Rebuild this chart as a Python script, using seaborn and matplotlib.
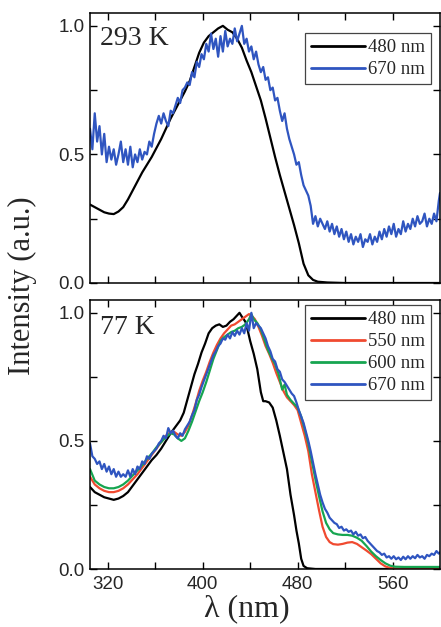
import numpy as np
import pandas as pd
import matplotlib
matplotlib.use("Agg")
import matplotlib.pyplot as plt
from matplotlib.ticker import FixedLocator
import seaborn as sns

# ---------------- data ----------------
# 293 K, detection at 480 nm
wl_293_480 = [305, 309, 313, 317, 321, 325, 329, 333, 337, 341, 345, 349, 353, 357, 361,
              365, 369, 373, 377, 381, 385, 389, 393, 397, 401, 405, 409, 413, 417, 421,
              425, 429, 433, 437, 441, 445, 449, 453, 457, 461, 465, 469, 473, 477, 481,
              485, 489, 493, 497, 505, 520, 560, 600]
int_293_480 = [0.305, 0.295, 0.285, 0.275, 0.27, 0.268, 0.278, 0.295, 0.325, 0.36, 0.395, 0.43,
               0.46, 0.49, 0.525, 0.56, 0.60, 0.64, 0.675, 0.71, 0.745, 0.785, 0.84, 0.895,
               0.935, 0.96, 0.975, 0.99, 1.0, 0.985, 0.975, 0.95, 0.915, 0.865, 0.82, 0.765,
               0.71, 0.64, 0.565, 0.49, 0.42, 0.355, 0.29, 0.225, 0.155, 0.075, 0.03, 0.012,
               0.005, 0.002, 0.0, 0.0, 0.0]

# 293 K, detection at 670 nm (2 nm steps from 305 nm, last point at 600 nm)
wl_293_670 = list(range(305, 600, 2)) + [600]
int_293_670 = [0.60, 0.52, 0.66, 0.55, 0.61, 0.50, 0.58, 0.47, 0.53, 0.48,
               0.52, 0.46, 0.50, 0.55, 0.47, 0.52, 0.46, 0.53, 0.45, 0.50,
               0.47, 0.52, 0.48, 0.51, 0.50, 0.55, 0.53, 0.58, 0.62, 0.65,
               0.62, 0.66, 0.63, 0.61, 0.67, 0.66, 0.69, 0.72, 0.70, 0.75,
               0.76, 0.78, 0.77, 0.82, 0.80, 0.86, 0.84, 0.89, 0.87, 0.93,
               0.90, 0.97, 0.91, 0.95, 0.88, 0.96, 0.90, 0.98, 0.92, 0.95,
               0.93, 0.99, 0.94, 0.97, 1.00, 0.93, 0.95, 0.90, 0.92, 0.87,
               0.90, 0.85, 0.82, 0.84, 0.79, 0.80, 0.75, 0.76, 0.71, 0.72,
               0.67, 0.63, 0.66, 0.60, 0.56, 0.53, 0.50, 0.46, 0.47, 0.42,
               0.38, 0.36, 0.34, 0.30, 0.23, 0.26, 0.22, 0.25, 0.23, 0.21,
               0.24, 0.20, 0.23, 0.19, 0.22, 0.18, 0.21, 0.17, 0.20, 0.16,
               0.19, 0.15, 0.18, 0.16, 0.19, 0.14, 0.17, 0.16, 0.19, 0.15,
               0.18, 0.16, 0.20, 0.17, 0.21, 0.18, 0.22, 0.19, 0.23, 0.18,
               0.21, 0.19, 0.24, 0.20, 0.23, 0.21, 0.25, 0.22, 0.26, 0.23,
               0.24, 0.27, 0.22, 0.25, 0.23, 0.27, 0.24, 0.32, 0.35]

# 77 K, detection at 480 nm
wl_77_480 = [305, 309, 313, 317, 321, 325, 329, 333, 337, 341, 345, 349, 353, 357, 361,
             365, 369, 373, 377, 381, 384, 387, 390, 393, 396, 399, 402, 405, 408, 411,
             414, 417, 420, 423, 426, 429, 431, 433, 436, 438, 440, 443, 446, 449, 451,
             453, 456, 459, 462, 465, 468, 471, 474, 477, 479, 481, 483, 485, 488, 495, 600]
int_77_480 = [0.32, 0.30, 0.29, 0.28, 0.275, 0.27, 0.275, 0.285, 0.30, 0.325, 0.35, 0.375,
              0.40, 0.425, 0.445, 0.47, 0.50, 0.53, 0.555, 0.58, 0.61, 0.66, 0.71, 0.76,
              0.80, 0.845, 0.88, 0.92, 0.94, 0.95, 0.955, 0.945, 0.95, 0.965, 0.975, 0.99,
              1.0, 0.985, 0.965, 0.93, 0.89, 0.84, 0.78, 0.69, 0.655, 0.655, 0.65, 0.63,
              0.58, 0.52, 0.455, 0.39, 0.29, 0.21, 0.15, 0.10, 0.04, 0.012, 0.003, 0.0, 0.0]

# 77 K, detection at 550 nm
wl_77_550 = [305, 309, 313, 317, 321, 325, 329, 333, 337, 341, 345, 349, 353, 357, 361,
             365, 369, 373, 376, 379, 382, 385, 388, 391, 394, 397, 400, 403, 406, 409,
             412, 415, 418, 421, 424, 427, 430, 433, 436, 439, 441, 444, 447, 450, 453,
             456, 459, 462, 465, 468, 471, 474, 477, 480, 483, 486, 489, 492, 495, 498,
             501, 504, 507, 510, 514, 518, 522, 526, 530, 534, 538, 542, 546, 550, 554,
             558, 565, 600]
int_77_550 = [0.36, 0.33, 0.315, 0.305, 0.30, 0.30, 0.305, 0.315, 0.33, 0.35, 0.37, 0.395,
              0.42, 0.445, 0.47, 0.495, 0.52, 0.535, 0.535, 0.525, 0.52, 0.535, 0.56, 0.60,
              0.645, 0.695, 0.735, 0.77, 0.81, 0.845, 0.875, 0.90, 0.92, 0.935, 0.95, 0.955,
              0.965, 0.975, 0.985, 0.995, 0.99, 0.975, 0.945, 0.91, 0.87, 0.84, 0.805, 0.765,
              0.73, 0.695, 0.67, 0.655, 0.64, 0.62, 0.57, 0.52, 0.46, 0.37, 0.30, 0.23,
              0.165, 0.125, 0.105, 0.097, 0.095, 0.098, 0.103, 0.105, 0.098, 0.085, 0.072,
              0.058, 0.04, 0.022, 0.01, 0.004, 0.0, 0.0]

# 77 K, detection at 600 nm
wl_77_600 = [305, 309, 313, 317, 321, 325, 329, 333, 337, 341, 345, 349, 353, 357, 361,
             365, 369, 373, 376, 379, 382, 385, 388, 391, 394, 397, 400, 403, 406, 409,
             412, 415, 418, 421, 424, 427, 430, 433, 436, 439, 441, 443, 446, 449, 452,
             455, 458, 461, 464, 467, 469, 471, 474, 477, 480, 483, 486, 489, 492, 495,
             498, 501, 504, 507, 510, 514, 518, 522, 526, 530, 534, 538, 542, 546, 550,
             554, 558, 562, 570, 580, 590, 600]
int_77_600 = [0.39, 0.345, 0.33, 0.32, 0.315, 0.315, 0.32, 0.33, 0.345, 0.365, 0.385, 0.405,
              0.43, 0.45, 0.475, 0.495, 0.515, 0.53, 0.525, 0.51, 0.50, 0.51, 0.54, 0.575,
              0.615, 0.655, 0.69, 0.73, 0.775, 0.82, 0.855, 0.89, 0.905, 0.915, 0.925, 0.93,
              0.94, 0.945, 0.955, 0.975, 0.995, 0.975, 0.96, 0.935, 0.895, 0.855, 0.825,
              0.80, 0.76, 0.70, 0.72, 0.68, 0.66, 0.645, 0.63, 0.595, 0.545, 0.49, 0.42,
              0.35, 0.285, 0.225, 0.18, 0.155, 0.14, 0.135, 0.133, 0.133, 0.13, 0.122, 0.11,
              0.09, 0.068, 0.05, 0.035, 0.022, 0.013, 0.009, 0.008, 0.008, 0.008, 0.008]

# 77 K, detection at 670 nm (2 nm steps from 305 nm, last point at 600 nm)
wl_77_670 = list(range(305, 600, 2)) + [600]
int_77_670 = [0.49, 0.44, 0.43, 0.41, 0.42, 0.39, 0.41, 0.38, 0.40, 0.37,
              0.39, 0.36, 0.38, 0.36, 0.37, 0.36, 0.385, 0.36, 0.39, 0.37,
              0.40, 0.39, 0.42, 0.41, 0.44, 0.43, 0.45, 0.46, 0.47, 0.49,
              0.50, 0.52, 0.51, 0.55, 0.53, 0.54, 0.52, 0.51, 0.53, 0.52,
              0.545, 0.56, 0.575, 0.60, 0.62, 0.66, 0.68, 0.71, 0.735, 0.76,
              0.785, 0.81, 0.835, 0.85, 0.87, 0.88, 0.90, 0.895, 0.915, 0.90,
              0.925, 0.91, 0.93, 0.915, 0.94, 0.92, 0.96, 0.93, 1.00, 0.94,
              0.96, 0.95, 0.94, 0.92, 0.90, 0.87, 0.85, 0.82, 0.81, 0.78,
              0.77, 0.74, 0.73, 0.715, 0.70, 0.685, 0.675, 0.65, 0.62, 0.595,
              0.57, 0.535, 0.50, 0.46, 0.415, 0.37, 0.33, 0.29, 0.26, 0.235,
              0.22, 0.20, 0.19, 0.18, 0.175, 0.16, 0.165, 0.15, 0.155, 0.145,
              0.15, 0.135, 0.145, 0.13, 0.135, 0.12, 0.125, 0.11, 0.10, 0.09,
              0.08, 0.07, 0.065, 0.055, 0.06, 0.045, 0.05, 0.04, 0.05, 0.038,
              0.045, 0.035, 0.048, 0.038, 0.05, 0.04, 0.05, 0.042, 0.055, 0.045,
              0.05, 0.04, 0.055, 0.05, 0.06, 0.055, 0.07, 0.06, 0.065]

x_ticks = [320, 400, 480, 560]
x_minor = [360, 440, 520]
y_ticks = [0.0, 0.5, 1.0]
y_minor = [0.25, 0.75]
y_tick_labels = ["0.0", "0.5", "1.0"]

colors = {"480 nm": "#000000", "550 nm": "#f04a30",
          "600 nm": "#16a550", "670 nm": "#2f55c0"}


def frame(series):
    parts = []
    for label, wl, val in series:
        parts.append(pd.DataFrame({"wl": wl, "I": val, "det": label}))
    return pd.concat(parts, ignore_index=True)


df_293 = frame([("480 nm", wl_293_480, int_293_480),
                ("670 nm", wl_293_670, int_293_670)])
df_77 = frame([("480 nm", wl_77_480, int_77_480),
               ("550 nm", wl_77_550, int_77_550),
               ("600 nm", wl_77_600, int_77_600),
               ("670 nm", wl_77_670, int_77_670)])

# ---------------- style ----------------
sns.set_style("ticks")
plt.rcParams["font.family"] = ["Liberation Sans", "DejaVu Sans"]
serif = ["Liberation Serif", "DejaVu Serif"]

fig = plt.figure(figsize=(4.41, 6.27), dpi=100)
ax1 = fig.add_axes([90 / 441, 1 - 283 / 627, 350 / 441, 270 / 627])
ax2 = fig.add_axes([90 / 441, 1 - 569 / 627, 350 / 441, 269 / 627])

for ax, df, temp, ytxt, leg_top in [(ax1, df_293, "293 K", 0.88, 0.926),
                                     (ax2, df_77, "77 K", 0.875, 0.981)]:
    order = list(dict.fromkeys(df["det"]))
    sns.lineplot(data=df, x="wl", y="I", hue="det", hue_order=order,
                 palette=colors, lw=1.6, ax=ax, sort=False,
                 estimator=None, legend=True)
    ax.set_xlim(305, 600)
    ax.set_ylim(0, 1.05)
    ax.xaxis.set_major_locator(FixedLocator(x_ticks))
    ax.xaxis.set_minor_locator(FixedLocator(x_minor))
    ax.set_yticks(y_ticks)
    ax.set_yticklabels(y_tick_labels)
    ax.yaxis.set_minor_locator(FixedLocator(y_minor))
    ax.tick_params(which="both", direction="in", top=True, right=True,
                   labelsize=13.5, width=1.0, color="black", length=5)
    ax.tick_params(axis="y", pad=4)
    ax.tick_params(axis="x", pad=5)
    for s in ax.spines.values():
        s.set_linewidth(1.1)
        s.set_color("black")
    ax.set_xlabel("")
    ax.set_ylabel("")
    ax.text(0.03, ytxt, temp, transform=ax.transAxes, fontsize=20,
            family=serif, ha="left", va="baseline")
    handles, labels = ax.get_legend_handles_labels()
    leg = ax.legend(handles, labels, loc="upper right",
                    bbox_to_anchor=(0.974, leg_top), borderaxespad=0,
                    frameon=True, fancybox=False, edgecolor="#444444",
                    framealpha=1, handlelength=2.9, handletextpad=0.15,
                    labelspacing=0.26, borderpad=0.32,
                    prop={"family": serif, "size": 13.5})
    leg.get_frame().set_linewidth(0.9)
    for h in leg.get_lines():
        h.set_linewidth(2.0)

ax1.tick_params(labelbottom=False)

ax2.set_xlabel("λ (nm)", fontsize=23, family=serif, va="top")

# place the axis title directly beneath the tick labels
fig.canvas.draw()
renderer = fig.canvas.get_renderer()
tick_bottom = min(t.get_window_extent(renderer).y0
                  for t in ax2.get_xticklabels() if t.get_text())
ax_box = ax2.get_window_extent(renderer)
ax2.xaxis.set_label_coords((247 - 90) / 350,
                           (tick_bottom - 1 - ax_box.y0) / ax_box.height)

fig.text(22 / 441, 0.545, "Intensity (a.u.)", rotation=90, fontsize=22,
         family=serif, ha="center", va="center")

fig.savefig("out.png", dpi=100)
